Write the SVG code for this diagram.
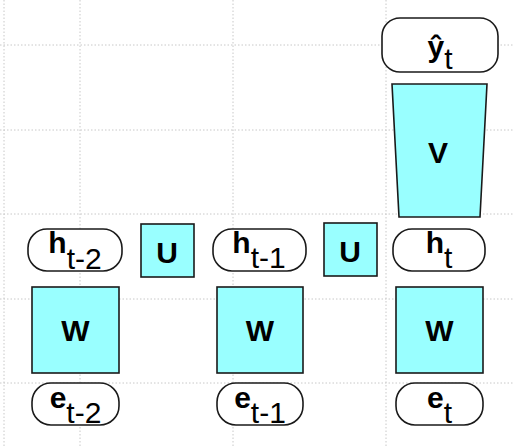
<svg xmlns="http://www.w3.org/2000/svg" width="514" height="448" viewBox="0 0 514 448">
<style>
.grid{stroke:#c8c8c8;stroke-width:1;stroke-dasharray:1.5 2;fill:none}
.mat{fill:#99ffff;stroke:#1a1a1a;stroke-width:1.6}
.pill{fill:#ffffff;stroke:#1a1a1a;stroke-width:1.6}
text{font-family:"Liberation Sans",Arial,sans-serif;font-size:30px;fill:#000}
.b{font-weight:bold}
.sub{font-weight:normal}
</style>
<rect x="0" y="0" width="514" height="448" fill="#ffffff"/>
<g id="grid">
<path class="grid" d="M4 0V448M80 0V448M233 0V448M386 0V448M0 45H514M0 130H514M0 214H514M0 299H514M0 383H514"/>
</g>
<g id="y_hat">
<rect class="pill" x="382" y="18" width="116" height="54" rx="18"/>
<text x="440" y="57" text-anchor="middle"><tspan class="b">ŷ</tspan><tspan class="sub" dy="12">t</tspan></text>
</g>
<g id="V">
<polygon class="mat" points="392,84 487,84 480,217 399,217"/>
<text class="b" x="438" y="163" text-anchor="middle">V</text>
</g>
<g id="h_t-2">
<rect class="pill" x="28" y="229" width="94" height="42" rx="19"/>
<text x="75" y="253" text-anchor="middle"><tspan class="b">h</tspan><tspan class="sub" dy="16">t-2</tspan></text>
</g>
<g id="U1">
<rect class="mat" x="141" y="224" width="53" height="53"/>
<text class="b" x="167" y="263" text-anchor="middle">U</text>
</g>
<g id="h_t-1">
<rect class="pill" x="213" y="229" width="93" height="42" rx="19"/>
<text x="259" y="253" text-anchor="middle"><tspan class="b">h</tspan><tspan class="sub" dy="15">t-1</tspan></text>
</g>
<g id="U2">
<rect class="mat" x="324" y="223" width="53" height="53"/>
<text class="b" x="350" y="262" text-anchor="middle">U</text>
</g>
<g id="h_t">
<rect class="pill" x="393" y="229" width="92" height="42" rx="19"/>
<text x="439" y="253" text-anchor="middle"><tspan class="b">h</tspan><tspan class="sub" dy="15">t</tspan></text>
</g>
<g id="W1">
<rect class="mat" x="32" y="287" width="87" height="86"/>
<text class="b" x="75.5" y="341" text-anchor="middle">W</text>
</g>
<g id="W2">
<rect class="mat" x="217" y="287" width="86" height="86"/>
<text class="b" x="260" y="341" text-anchor="middle">W</text>
</g>
<g id="W3">
<rect class="mat" x="396" y="287" width="87" height="86"/>
<text class="b" x="439.5" y="341" text-anchor="middle">W</text>
</g>
<g id="e_t-2">
<rect class="pill" x="32" y="383" width="87" height="42" rx="19"/>
<text x="75.5" y="408" text-anchor="middle"><tspan class="b">e</tspan><tspan class="sub" dy="15">t-2</tspan></text>
</g>
<g id="e_t-1">
<rect class="pill" x="217" y="383" width="86" height="42" rx="19"/>
<text x="260" y="408" text-anchor="middle"><tspan class="b">e</tspan><tspan class="sub" dy="15">t-1</tspan></text>
</g>
<g id="e_t">
<rect class="pill" x="396" y="383" width="87" height="42" rx="19"/>
<text x="439.5" y="408" text-anchor="middle"><tspan class="b">e</tspan><tspan class="sub" dy="15">t</tspan></text>
</g>
</svg>
